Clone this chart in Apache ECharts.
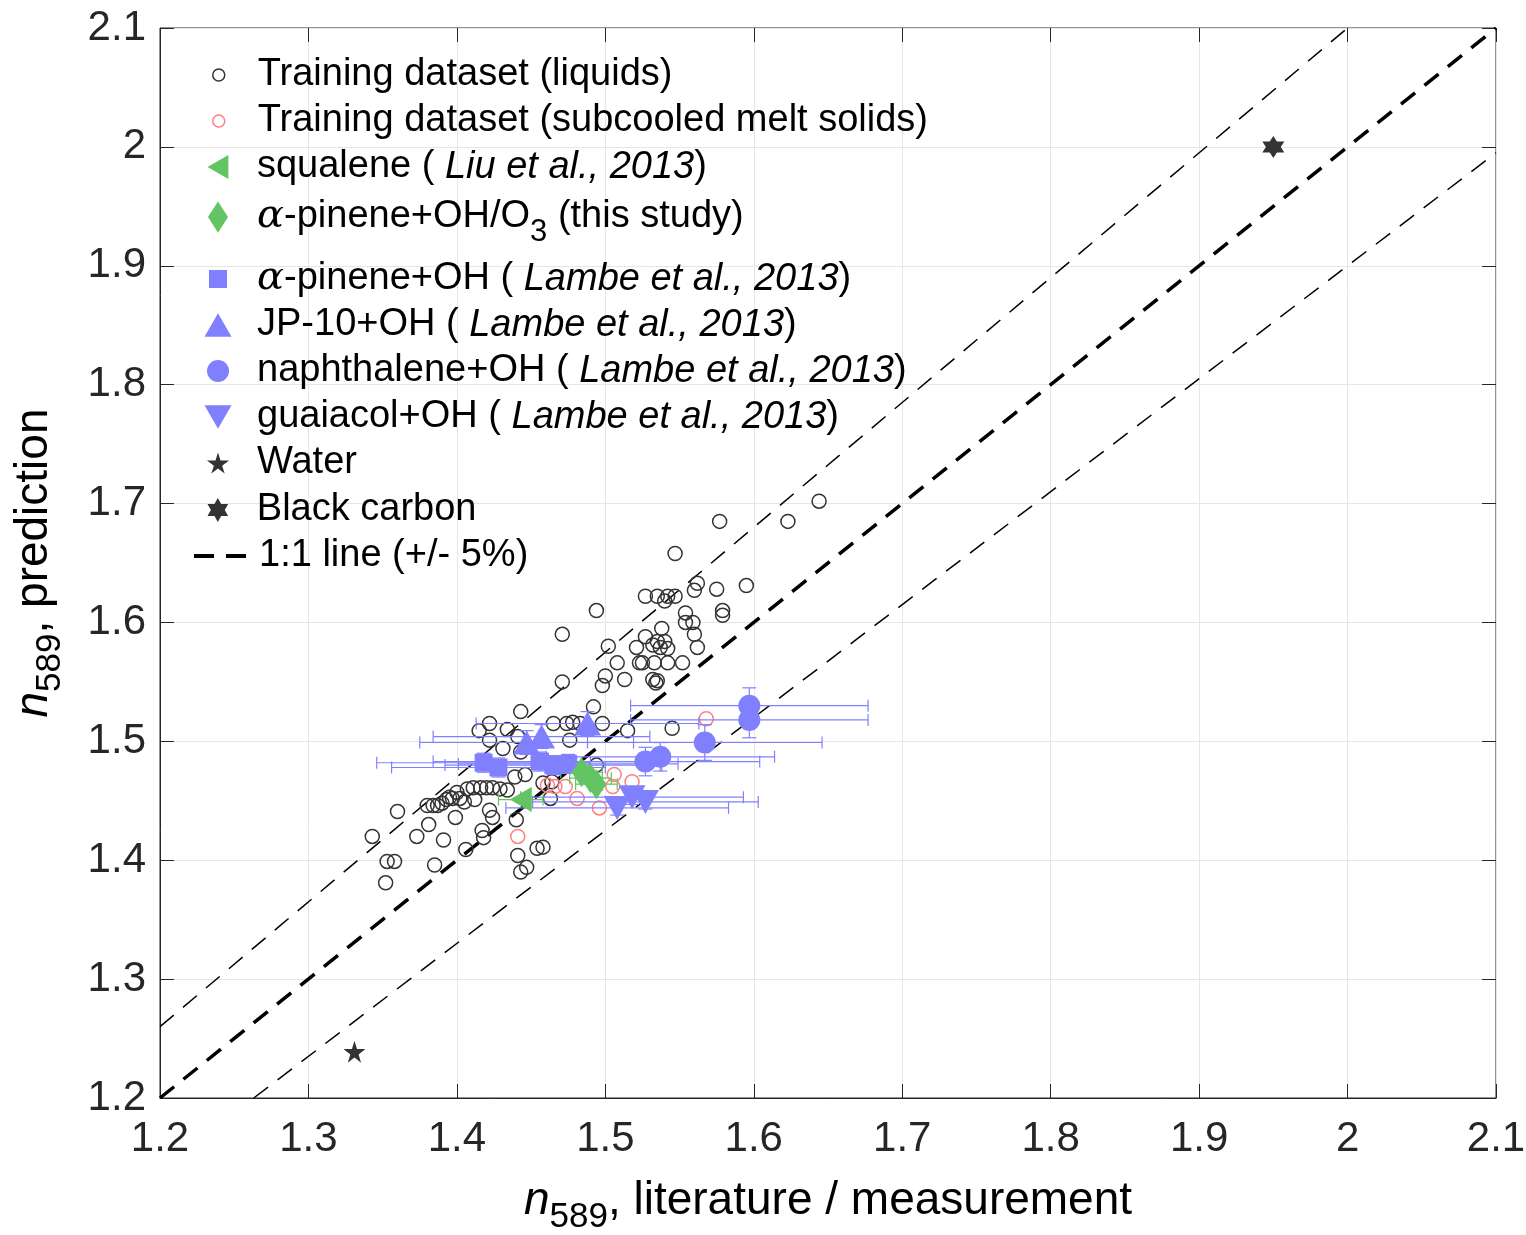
<!DOCTYPE html>
<html>
<head>
  <meta charset="utf-8">
  <title>n589 prediction</title>
  <script src="https://cdn.jsdelivr.net/npm/echarts@6/dist/echarts.min.js"></script>
  <style>
    html, body { margin: 0; padding: 0; background: #fff; }
    #main { width: 1526px; height: 1235px; }
  </style>
</head>
<body>
<div id="main"></div>
<script>
  // 训练集 (liquids)
  var liquidsX = [1.644, 1.577, 1.623, 1.547, 1.562, 1.560, 1.575, 1.595, 1.527, 1.535, 1.542, 1.547, 1.540, 1.494,
    1.554, 1.554, 1.559, 1.579, 1.579, 1.471, 1.538, 1.560, 1.527, 1.502, 1.521, 1.532, 1.535, 1.540, 1.542, 1.537,
    1.562, 1.508, 1.523, 1.525, 1.533, 1.542, 1.552, 1.500, 1.498, 1.513, 1.532, 1.535, 1.534, 1.471,
    1.443, 1.422, 1.415, 1.465, 1.474, 1.478, 1.483, 1.492, 1.498, 1.515, 1.545, 1.476, 1.422, 1.434, 1.441, 1.431,
    1.443, 1.494, 1.439, 1.446, 1.463, 1.458, 1.464, 1.411, 1.416, 1.420, 1.424, 1.429, 1.434, 1.400, 1.395, 1.393,
    1.390, 1.387, 1.384, 1.380, 1.397, 1.402, 1.405, 1.412, 1.407, 1.422, 1.424, 1.399, 1.360, 1.381, 1.373, 1.391,
    1.343, 1.417, 1.418, 1.406, 1.385, 1.353, 1.358, 1.352, 1.440, 1.441, 1.454, 1.458, 1.447, 1.443];
  var liquidsY = [1.702, 1.685, 1.685, 1.658, 1.633, 1.627, 1.628, 1.631, 1.622, 1.622, 1.622, 1.622, 1.618, 1.610,
    1.608, 1.600, 1.600, 1.610, 1.606, 1.590, 1.595, 1.590, 1.588, 1.580, 1.579, 1.581, 1.584, 1.584, 1.578, 1.579,
    1.579, 1.566, 1.566, 1.566, 1.566, 1.566, 1.566, 1.555, 1.547, 1.552, 1.552, 1.551, 1.549, 1.550,
    1.525, 1.515, 1.509, 1.515, 1.515, 1.516, 1.515, 1.529, 1.515, 1.509, 1.511, 1.501, 1.501, 1.510, 1.504, 1.494,
    1.491, 1.480, 1.470, 1.472, 1.452, 1.465, 1.466, 1.461, 1.461, 1.461, 1.461, 1.460, 1.459, 1.457, 1.453, 1.451,
    1.448, 1.446, 1.446, 1.446, 1.452, 1.452, 1.449, 1.451, 1.460, 1.442, 1.436, 1.436, 1.441, 1.430, 1.420, 1.417,
    1.420, 1.425, 1.419, 1.409, 1.396, 1.399, 1.399, 1.381, 1.434, 1.404, 1.410, 1.411, 1.394, 1.390];

  // 训练集 (subcooled melt solids)
  var solidsX = [1.441, 1.461, 1.466, 1.473, 1.481, 1.496, 1.506, 1.505, 1.518, 1.568];
  var solidsY = [1.420, 1.463, 1.462, 1.462, 1.452, 1.444, 1.472, 1.462, 1.466, 1.519];

  // squalene (Liu et al., 2013)
  var squaleneX = [1.443];
  var squaleneY = [1.451];
  var squaleneXErr = [0.015];
  var squaleneYErr = [0];

  // a-pinene+OH/O3 (this study)
  var apinO3X = [1.484, 1.490, 1.494];
  var apinO3Y = [1.474, 1.469, 1.464];
  var apinO3XErr = [0.014, 0.014, 0.014];
  var apinO3YErr = [0.005, 0.005, 0.005];

  // a-pinene+OH (Lambe et al., 2013)
  var apinOHX = [1.418, 1.428, 1.456, 1.465, 1.475];
  var apinOHY = [1.482, 1.478, 1.483, 1.480, 1.481];
  var apinOHXErr = [0.072, 0.072, 0.072, 0.073, 0.074];
  var apinOHYErr = [0.008, 0.008, 0.008, 0.008, 0.008];

  // JP-10+OH
  var jp10X = [1.447, 1.457, 1.488];
  var jp10Y = [1.499, 1.504, 1.515];
  var jp10XErr = [0.072, 0.073, 0.075];
  var jp10YErr = [0.010, 0.010, 0.010];

  // naphthalene+OH
  var naphX = [1.597, 1.597, 1.567, 1.527, 1.537];
  var naphY = [1.530, 1.518, 1.499, 1.483, 1.487];
  var naphXErr = [0.080, 0.080, 0.079, 0.077, 0.077];
  var naphYErr = [0.015, 0.015, 0.015, 0.012, 0.012];

  // guaiacol+OH
  var guaiX = [1.508, 1.518, 1.527];
  var guaiY = [1.444, 1.453, 1.449];
  var guaiXErr = [0.075, 0.075, 0.076];
  var guaiYErr = [0.006, 0.006, 0.006];

  var waterPt = [1.331, 1.239];
  var blackCarbonPt = [1.950, 2.000];

  // 1:1 线和 +/-5%
  var axisRange = [1.2, 2.1];
  var bandFrac = 0.05;
  var tickStep = 0.1;

  var FONT = '"Liberation Sans", Arial, Helvetica, sans-serif';
  var BLUE = '#8080ff', GREEN = '#62c462', RED = '#ff8080', DARK = '#333333';

  function pairs(xs, ys) {
    return xs.map(function (x, i) { return [x, ys[i]]; });
  }
  function errRows(xs, ys, exs, eys) {
    return xs.map(function (x, i) { return [x, ys[i], exs[i], eys[i]]; });
  }

  var STAR = 'path://M50,0 L61,35 L98,35 L68,57 L79,91 L50,70 L21,91 L32,57 L2,35 L39,35 Z';
  var HEXA = 'path://M50,0 L64,25 L93,25 L79,50 L93,75 L64,75 L50,100 L36,75 L7,75 L21,50 L7,25 L36,25 Z';
  var TRI_LEFT = 'path://M0,50 L87,0 L87,100 Z';
  var TRI_DOWN = 'path://M0,0 L100,0 L50,87 Z';
  var TRI_UP = 'path://M50,0 L100,87 L0,87 Z';
  var SQUARE = 'path://M0,0 L100,0 L100,100 L0,100 Z';
  var DIAMOND = 'path://M32,0 L64,50 L32,100 L0,50 Z';

  // 误差棒
  function errorBar(color) {
    return function (params, api) {
      var x = api.value(0), y = api.value(1), ex = api.value(2), ey = api.value(3);
      var c = api.coord([x, y]);
      var l = api.coord([x - ex, y]), r = api.coord([x + ex, y]);
      var st = { stroke: color, lineWidth: 1.2 };
      var cap = 6;
      function seg(x1, y1, x2, y2) {
        return { type: 'line', shape: { x1: x1, y1: y1, x2: x2, y2: y2 }, style: st };
      }
      var kids = [
        seg(l[0], c[1], r[0], c[1]),
        seg(l[0], c[1] - cap, l[0], c[1] + cap),
        seg(r[0], c[1] - cap, r[0], c[1] + cap)
      ];
      if (ey > 0) {
        var t = api.coord([x, y + ey]), b = api.coord([x, y - ey]);
        kids.push(seg(c[0], t[1], c[0], b[1]));
        kids.push(seg(c[0] - 7, t[1], c[0] + 7, t[1]));
        kids.push(seg(c[0] - 7, b[1], c[0] + 7, b[1]));
      }
      return { type: 'group', children: kids };
    };
  }

  function errSeries(rows, color) {
    return {
      type: 'custom', renderItem: errorBar(color), data: rows,
      encode: { x: 0, y: 1 }, z: 3, silent: true
    };
  }

  var LFS = 38;
  var rich = {
    i: { fontStyle: 'italic', fontSize: LFS, fontFamily: FONT, color: '#000' },
    g: { fontStyle: 'italic', fontSize: LFS + 2, fontFamily: '"DejaVu Serif", serif', color: '#000' },
    sub: { fontSize: 31, fontFamily: FONT, color: '#000', padding: [30, 0, 0, 0] }
  };

  var legendText = {
    'Training dataset (liquids)': 'Training dataset (liquids)',
    'Training dataset (subcooled melt solids)': 'Training dataset (subcooled melt solids)',
    'squalene': 'squalene ( {i|Liu et al., 2013})',
    'apinO3': '{g|α}-pinene+OH/O{sub|3} (this study)',
    'apinOH': '{g|α}-pinene+OH ( {i|Lambe et al., 2013})',
    'JP-10+OH': 'JP-10+OH ( {i|Lambe et al., 2013})',
    'naphthalene+OH': 'naphthalene+OH ( {i|Lambe et al., 2013})',
    'guaiacol+OH': 'guaiacol+OH ( {i|Lambe et al., 2013})',
    'Water': 'Water',
    'Black carbon': 'Black carbon',
    '1:1 line': '1:1 line (+/- 5%)'
  };

  // 图例每一行：图标中心 x=218，文字起点 x=257
  var legendRows = [
    { name: 'Training dataset (liquids)', y: 72, w: 12, h: 12, icon: 'circle', itemStyle: { color: '#fff', borderColor: DARK, borderWidth: 1.5 } },
    { name: 'Training dataset (subcooled melt solids)', y: 118, w: 12, h: 12, icon: 'circle', itemStyle: { color: '#fff', borderColor: RED, borderWidth: 1.5 } },
    { name: 'squalene', y: 164, w: 21, h: 24, icon: TRI_LEFT, itemStyle: { color: GREEN, borderWidth: 0 } },
    { name: 'apinO3', y: 214, w: 20, h: 32, icon: DIAMOND, itemStyle: { color: GREEN, borderWidth: 0 } },
    { name: 'apinOH', y: 276, w: 18, h: 18, icon: SQUARE, itemStyle: { color: BLUE, borderWidth: 0 } },
    { name: 'JP-10+OH', y: 322, w: 27, h: 23.5, icon: TRI_UP, itemStyle: { color: BLUE, borderWidth: 0 } },
    { name: 'naphthalene+OH', y: 368, w: 22, h: 22, icon: 'circle', itemStyle: { color: BLUE, borderWidth: 0 } },
    { name: 'guaiacol+OH', y: 414, w: 27, h: 23.5, icon: TRI_DOWN, itemStyle: { color: BLUE, borderWidth: 0 } },
    { name: 'Water', y: 460, w: 22, h: 21, icon: STAR, itemStyle: { color: DARK, borderWidth: 0 } },
    { name: 'Black carbon', y: 507, w: 21, h: 24, icon: HEXA, itemStyle: { color: DARK, borderWidth: 0 } },
    {
      name: '1:1 line', y: 553, w: 52, h: 14, itemStyle: { color: 'rgba(0,0,0,0)', borderWidth: 0, opacity: 0 },
      lineStyle: { color: '#000', width: 4, type: [20, 12] }
    }
  ];

  var chart = echarts.init(document.getElementById('main'));

  var lo = axisRange[0], hi = axisRange[1];
  var axisTxt = { fontSize: 42, color: '#262626', fontFamily: FONT };
  var titleRich = {
    i: { fontStyle: 'italic', fontSize: 46, fontFamily: FONT, color: '#000' },
    sub: { fontSize: 35, fontFamily: FONT, color: '#000', padding: [32, 0, 0, 0] }
  };

  var option = {
    animation: false,
    backgroundColor: '#fff',
    grid: {
      left: 160, right: 30, top: 28, bottom: 137, containLabel: false, outerBoundsMode: 'none',
      show: true, borderColor: '#262626', borderWidth: 1
    },
    legend: legendRows.map(function (r) {
      var d = { name: r.name, itemStyle: r.itemStyle };
      if (r.icon) { d.icon = r.icon; }
      if (r.lineStyle) { d.lineStyle = r.lineStyle; }
      return {
        left: 218 - r.w / 2, top: r.y - 18, orient: 'vertical', padding: 0,
        itemWidth: r.w, itemHeight: r.h,
        selectedMode: false, data: [d],
        formatter: function (n) { return legendText[n]; },
        textStyle: {
          fontSize: LFS, color: '#000', fontFamily: FONT, lineHeight: 42,
          padding: [0, 0, 0, 34 - r.w / 2], rich: rich
        }
      };
    }),
    xAxis: [{
      type: 'value', min: lo, max: hi, interval: tickStep,
      axisLine: { show: true, lineStyle: { color: '#262626', width: 1 } },
      axisTick: { inside: true, length: 14, lineStyle: { color: '#262626' } },
      splitLine: { lineStyle: { color: '#e6e6e6', width: 1 } },
      axisLabel: Object.assign({ margin: 20 }, axisTxt),
      name: '{i|n}{sub|589}, literature / measurement',
      nameLocation: 'middle', nameGap: 70,
      nameTextStyle: { fontSize: 46, color: '#000', fontFamily: FONT, rich: titleRich }
    }, {
      type: 'value', position: 'top', min: lo, max: hi, interval: tickStep,
      axisLine: { show: false }, axisLabel: { show: false }, splitLine: { show: false },
      axisTick: { inside: true, length: 14, lineStyle: { color: '#262626' } }
    }],
    yAxis: [{
      type: 'value', min: lo, max: hi, interval: tickStep,
      axisLine: { show: true, lineStyle: { color: '#262626', width: 1 } },
      axisTick: { inside: true, length: 14, lineStyle: { color: '#262626' } },
      splitLine: { lineStyle: { color: '#e6e6e6', width: 1 } },
      axisLabel: Object.assign({ margin: 14 }, axisTxt),
      name: '{i|n}{sub|589}, prediction',
      nameLocation: 'middle', nameGap: 92,
      nameTextStyle: { fontSize: 46, color: '#000', fontFamily: FONT, rich: titleRich }
    }, {
      type: 'value', position: 'right', min: lo, max: hi, interval: tickStep,
      axisLine: { show: false }, axisLabel: { show: false }, splitLine: { show: false },
      axisTick: { inside: true, length: 14, lineStyle: { color: '#262626' } }
    }],
    series: [
      {
        name: 'Training dataset (liquids)', type: 'scatter', data: pairs(liquidsX, liquidsY),
        symbol: 'circle', symbolSize: 14, z: 2,
        itemStyle: { color: 'rgba(0,0,0,0)', borderColor: DARK, borderWidth: 1.5, opacity: 1 }
      },
      {
        name: 'Training dataset (subcooled melt solids)', type: 'scatter', data: pairs(solidsX, solidsY),
        symbol: 'circle', symbolSize: 14, z: 2,
        itemStyle: { color: 'rgba(0,0,0,0)', borderColor: RED, borderWidth: 1.5, opacity: 1 }
      },
      {
        name: '1:1 line', type: 'line', data: [[lo, lo], [hi, hi]], symbol: 'none', z: 2,
        itemStyle: { color: '#000' },
        lineStyle: { color: '#000', width: 3.5, type: [18, 12] }
      },
      {
        type: 'line', data: [[lo, lo * (1 + bandFrac)], [hi / (1 + bandFrac), hi]], symbol: 'none', z: 2, silent: true,
        lineStyle: { color: '#000', width: 1.5, type: [18, 12] }
      },
      {
        type: 'line', data: [[lo / (1 - bandFrac), lo], [hi, hi * (1 - bandFrac)]], symbol: 'none', z: 2, silent: true,
        lineStyle: { color: '#000', width: 1.5, type: [18, 12] }
      },
      errSeries(errRows(apinOHX, apinOHY, apinOHXErr, apinOHYErr), BLUE),
      errSeries(errRows(jp10X, jp10Y, jp10XErr, jp10YErr), BLUE),
      errSeries(errRows(naphX, naphY, naphXErr, naphYErr), BLUE),
      errSeries(errRows(guaiX, guaiY, guaiXErr, guaiYErr), BLUE),
      errSeries(errRows(squaleneX, squaleneY, squaleneXErr, squaleneYErr), GREEN),
      errSeries(errRows(apinO3X, apinO3Y, apinO3XErr, apinO3YErr), GREEN),
      {
        name: 'apinOH', type: 'scatter', data: pairs(apinOHX, apinOHY), symbol: 'rect', symbolSize: 18, z: 4,
        itemStyle: { color: BLUE, opacity: 1 }
      },
      {
        name: 'JP-10+OH', type: 'scatter', data: pairs(jp10X, jp10Y), symbol: TRI_UP, symbolSize: [27, 24], z: 4,
        itemStyle: { color: BLUE, opacity: 1 }
      },
      {
        name: 'naphthalene+OH', type: 'scatter', data: pairs(naphX, naphY), symbol: 'circle', symbolSize: 22, z: 4,
        itemStyle: { color: BLUE, opacity: 1 }
      },
      {
        name: 'guaiacol+OH', type: 'scatter', data: pairs(guaiX, guaiY), symbol: TRI_DOWN, symbolSize: [27, 24], z: 4,
        itemStyle: { color: BLUE, opacity: 1 }
      },
      {
        name: 'squalene', type: 'scatter', data: pairs(squaleneX, squaleneY), symbol: TRI_LEFT, symbolSize: [22, 25], z: 5,
        itemStyle: { color: GREEN, opacity: 1 }
      },
      {
        name: 'apinO3', type: 'scatter', data: pairs(apinO3X, apinO3Y), symbol: DIAMOND, symbolSize: [20, 30], z: 5,
        itemStyle: { color: GREEN, opacity: 1 }
      },
      {
        name: 'Water', type: 'scatter', data: [waterPt], symbol: STAR, symbolSize: 22, z: 5,
        itemStyle: { color: DARK, opacity: 1 }
      },
      {
        name: 'Black carbon', type: 'scatter', data: [blackCarbonPt], symbol: HEXA, symbolSize: 22, z: 5,
        itemStyle: { color: DARK, opacity: 1 }
      }
    ]
  };

  chart.setOption(option);

  window.onresize = function () {
    chart.resize();
  };
</script>
</body>
</html>
